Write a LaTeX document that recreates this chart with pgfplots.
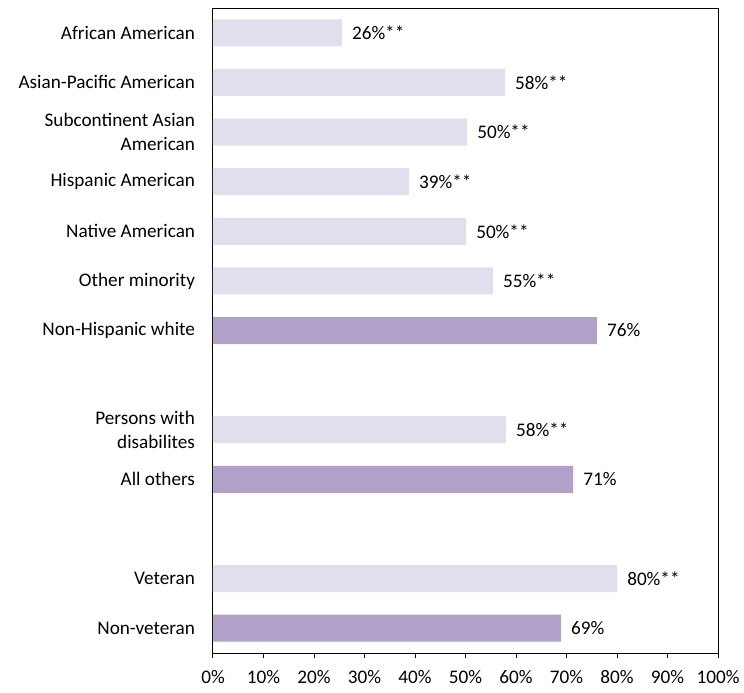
\documentclass[border=0pt]{standalone}
\usepackage{fontspec}
\setmainfont{Carlito}
\usepackage{pgfplots}
\pgfplotsset{compat=1.18}
\definecolor{lightbar}{RGB}{225,222,237}
\definecolor{darkbar}{RGB}{177,160,199}
\begin{document}
\fontsize{14.4}{18}\selectfont
\begin{tikzpicture}
\begin{axis}[
  name=ax,
  scale only axis,
  width=378.75pt, height=483.75pt,
  xbar, bar width=20.25pt,
  xmin=0, xmax=100,
  ymin=-0.5, ymax=12.5,
  y dir=reverse,
  axis line style={black, line width=0.75pt},
  xtick={0,10,...,100},
  xticklabels={0\%,10\%,20\%,30\%,40\%,50\%,60\%,70\%,80\%,90\%,100\%},
  xtick pos=bottom,
  xtick align=outside,
  major tick length=4pt,
  tick style={black, line width=0.75pt},
  ytick={0,1,2,3,4,5,6,8,9,11,12},
  yticklabels={African American,Asian-Pacific American,{Subcontinent Asian\\American},Hispanic American,Native American,Other minority,Non-Hispanic white,{Persons with\\disabilites},All others,Veteran,Non-veteran},
  yticklabel style={align=right, font=\fontsize{14.4}{18}\selectfont},
  xticklabel style={font=\fontsize{14.4}{18}\selectfont, yshift=-4pt},
  y tick label style={xshift=-4.5pt},
  ytick style={draw=none},
  tick label style={/pgf/number format/assume math mode=true},
  nodes near coords style={anchor=west, inner sep=0pt, xshift=7.5pt, font=\fontsize{14.4}{18}\selectfont, text=black},
]
\addplot[fill=lightbar, draw=none, bar shift=0pt,
  nodes near coords={\pgfmathprintnumber[fixed,precision=0,assume math mode=true]{\pgfplotspointmeta}\%**}]
  coordinates {(25.5,0) (57.8,1) (50.3,2) (38.8,3) (50.1,4) (55.4,5) (58.0,8) (80.0,11)};
\addplot[fill=darkbar, draw=none, bar shift=0pt,
  nodes near coords={\pgfmathprintnumber[fixed,precision=0,assume math mode=true]{\pgfplotspointmeta}\%}]
  coordinates {(76.0,6) (71.3,9) (68.9,12)};
\end{axis}
\pgfresetboundingbox
\path[use as bounding box] ([shift={(-159.75pt,-29.25pt)}]ax.south west) rectangle ([shift={(19.5pt,6pt)}]ax.north east);
\end{tikzpicture}
\end{document}
